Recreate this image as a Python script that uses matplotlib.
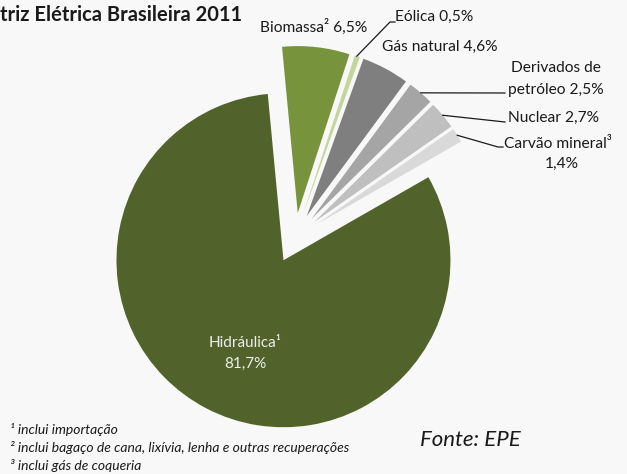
"""
Matriz eletrica brasileira 2011 - grafico de pizza com fatias destacadas
"""
import numpy as np
import matplotlib.pyplot as plt

plt.rcParams["font.family"] = ["Lato", "DejaVu Sans"]

# dados (%), na ordem horaria a partir do topo
fontes = ["Biomassa", "Eólica", "Gás natural", "Derivados de petróleo",
          "Nuclear", "Carvão mineral", "Hidráulica"]
valores = [6.5, 0.5, 4.6, 2.5, 2.7, 1.4, 81.7]
cores = ["#77933C", "#C3D69B", "#7F7F7F", "#A5A5A5",
         "#BFBFBF", "#D9D9D9", "#51632A"]

W, H = 627, 474
FUNDO = "#F8F8F8"
RAIO = 167


def py(y):
    """converte coordenada de pixel (topo=0) para o eixo"""
    return H - y


fig = plt.figure(figsize=(W / 100, H / 100), dpi=100, facecolor=FUNDO)
ax = fig.add_axes([0, 0, 1, 1])

# no matplotlib o explode e em unidades de dados
wedges, _ = ax.pie(
    valores,
    colors=cores,
    explode=[0.15 * RAIO] * len(valores),
    startangle=95.4,
    counterclock=False,
    center=(295, py(238)),
    radius=RAIO,
    wedgeprops={"linewidth": 0},
    frame=True,
)
ax.set_xlim(0, W)
ax.set_ylim(0, H)
ax.set_aspect("equal")
ax.axis("off")


def ponto_arco(w, frac=0.5):
    ang = np.deg2rad(w.theta1 + (w.theta2 - w.theta1) * frac)
    cx, cy = w.center
    return cx + w.r * np.cos(ang), cy + w.r * np.sin(ang)


txt = {"fontsize": 11.2, "color": "#1a1a1a"}

# rotulos
ax.text(314, py(27), "Biomassa² 6,5%", ha="center", va="center", **txt)
ax.text(395, py(17), "Eólica 0,5%", ha="left", va="center", **txt)
ax.text(440, py(47), "Gás natural 4,6%", ha="center", va="center", **txt)
ax.text(556, py(68), "Derivados de", ha="center", va="center", **txt)
ax.text(556, py(90), "petróleo 2,5%", ha="center", va="center", **txt)
ax.text(508, py(118), "Nuclear 2,7%", ha="left", va="center", **txt)
ax.text(504, py(144), "Carvão mineral³", ha="left", va="center", **txt)
ax.text(562, py(164), "1,4%", ha="center", va="center", **txt)

# linhas de chamada
linhas = [
    (1, [(390, py(22)), (395, py(22))]),
    (3, [(505, py(93))]),
    (4, [(505, py(122))]),
    (5, [(498, py(147)), (503, py(147))]),
]
for i, pontos in linhas:
    x0, y0 = ponto_arco(wedges[i], 0.6 if i == 1 else 0.5)
    xs = [x0] + [p[0] for p in pontos]
    ys = [y0] + [p[1] for p in pontos]
    ax.plot(xs, ys, color="#1a1a1a", lw=0.9)

ax.text(245, py(343), "Hidráulica¹", ha="center", va="center",
        fontsize=11, color="#EEEEEE")
ax.text(245, py(364), "81,7%", ha="center", va="center",
        fontsize=11, color="#EEEEEE")

# titulo (recortado na borda esquerda)
ax.text(0, py(15), "triz Elétrica Brasileira 2011", ha="left", va="center",
        fontsize=14.5, fontweight="bold", color="#1a1a1a")

# notas
notas = ["¹ inclui importação",
         "² inclui bagaço de cana, lixívia, lenha e outras recuperações",
         "³ inclui gás de coqueria"]
for k, nota in enumerate(notas):
    ax.text(10, py(429 + 18.5 * k), nota, ha="left", va="center",
            fontsize=10, style="italic", color="#1a1a1a")

ax.text(420, py(440), "Fonte: EPE", ha="left", va="center",
        fontsize=16, style="italic", color="#1a1a1a")

fig.savefig("out.png", dpi=100, facecolor=FUNDO)
